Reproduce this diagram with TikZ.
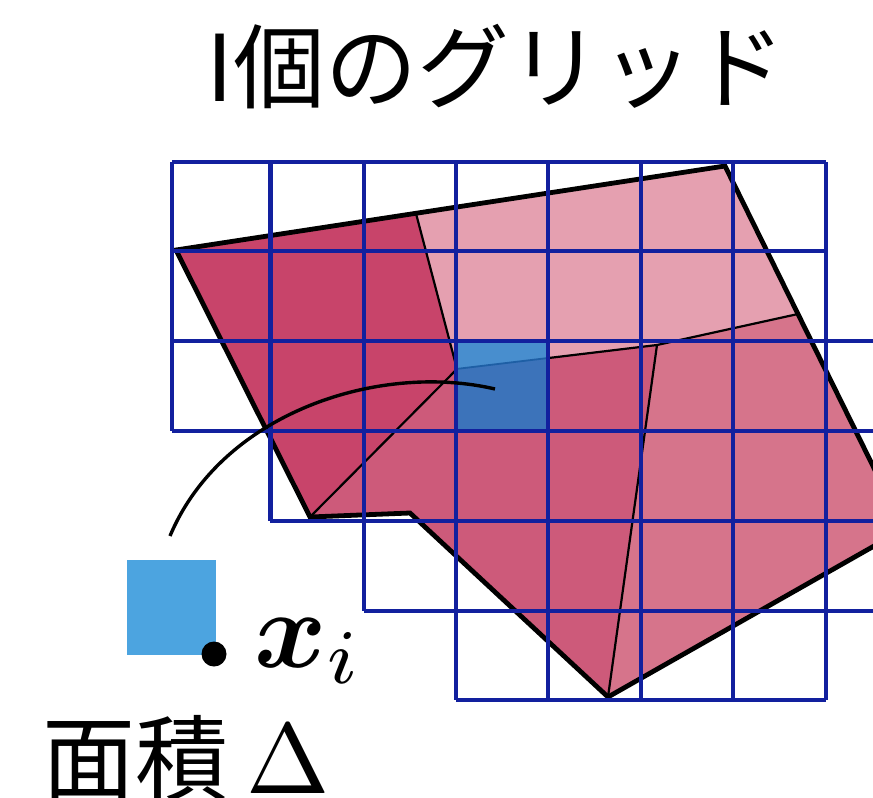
\documentclass[tikz,border=0pt]{standalone}
\usepackage{amsmath}
\usepackage{fontspec}
\newfontfamily\jpfont{Noto Sans CJK JP}
\definecolor{gridblue}{RGB}{18,32,158}
\definecolor{rdark}{RGB}{200,68,106}
\definecolor{rlight}{RGB}{229,160,176}
\definecolor{rmid}{RGB}{205,90,122}
\definecolor{rsoft}{RGB}{214,116,139}
\definecolor{bluelow}{RGB}{60,115,186}
\definecolor{bluehigh}{RGB}{72,142,206}
\definecolor{bluesq}{RGB}{76,164,224}
\definecolor{blueline}{RGB}{30,95,165}
\tikzset{
  gridline/.style={draw=gridblue,line width=4.3pt},
  outline/.style={draw=black,line width=4.8pt},
  innerline/.style={draw=black,line width=2.2pt},
  pointer/.style={draw=black,line width=3.4pt},
  jptext/.style={font=\jpfont\fontsize{92}{92}\selectfont,inner sep=0pt},
}
\begin{document}
\begin{tikzpicture}[x=1pt,y=-1pt]
\useasboundingbox (0,0) rectangle (873,798);
\clip (0,0) rectangle (873,798);
% polygon vertices
\coordinate (A) at (176,250);
\coordinate (B) at (725,166);
\coordinate (R) at (904,529);
\coordinate (C) at (608,697);
\coordinate (D) at (410,513);
\coordinate (E) at (310,517);
\coordinate (T) at (416,213.5);
\coordinate (P) at (457,369);
\coordinate (Q) at (657,345);
\coordinate (S) at (798,314);
% regions
\fill[rdark] (A) -- (T) -- (P) -- (E) -- cycle;
\fill[rlight] (T) -- (B) -- (S) -- (Q) -- (P) -- cycle;
\fill[rmid] (P) -- (Q) -- (C) -- (D) -- (E) -- cycle;
\fill[rsoft] (Q) -- (S) -- (R) -- (C) -- cycle;
% inner lines
\draw[innerline] (T) -- (P) -- (E);
\draw[innerline] (P) -- (Q) -- (S);
\draw[innerline] (Q) -- (C);
% highlighted cell
\fill[bluehigh] (456,341) -- (548,341) -- (548,358) -- (456,369) -- cycle;
\fill[bluelow] (456,369) -- (548,358) -- (548,431) -- (456,431) -- cycle;
\draw[blueline,line width=1.8pt] (456,369) -- (548,358);
% outline
\draw[outline] (A) -- (B) -- (R) -- (C) -- (D) -- (E) -- cycle;
% grid
\draw[gridline] (172,162) -- (826,162);
\draw[gridline] (172,251) -- (826,251);
\draw[gridline] (172,341) -- (919,341);
\draw[gridline] (172,431) -- (919,431);
\draw[gridline] (270,521) -- (919,521);
\draw[gridline] (364,611) -- (919,611);
\draw[gridline] (456,700) -- (826,700);
\draw[gridline] (172,162) -- (172,431);
\draw[gridline] (270.5,162) -- (270.5,521);
\draw[gridline] (364,162) -- (364,611);
\foreach \gx in {456,548,641,733,826} {
  \draw[gridline] (\gx,162) -- (\gx,700);
}
% small square, point and label
\fill[bluesq] (127,560) rectangle (216,655);
\fill[black] (214,654) circle (12.5);
\coordinate (cs) at (170,536);
\coordinate (ce) at (495,389);
\draw[pointer] (cs) .. controls (222,412) and (380,362) .. (ce);
% texts
\node[jptext,anchor=base] (title) at (496,101) {I個のグリッド};
\node[anchor=base west,inner sep=0pt,scale=11] (xi) at (252,667) {$\boldsymbol{x}_i$};
\node[jptext,anchor=base west,font=\jpfont\fontsize{93}{93}\selectfont] (area) at (42,793) {面積};
\node[anchor=base west,inner sep=0pt,scale=10] (delta) at (244,793) {$\Delta$};
\end{tikzpicture}
\end{document}
